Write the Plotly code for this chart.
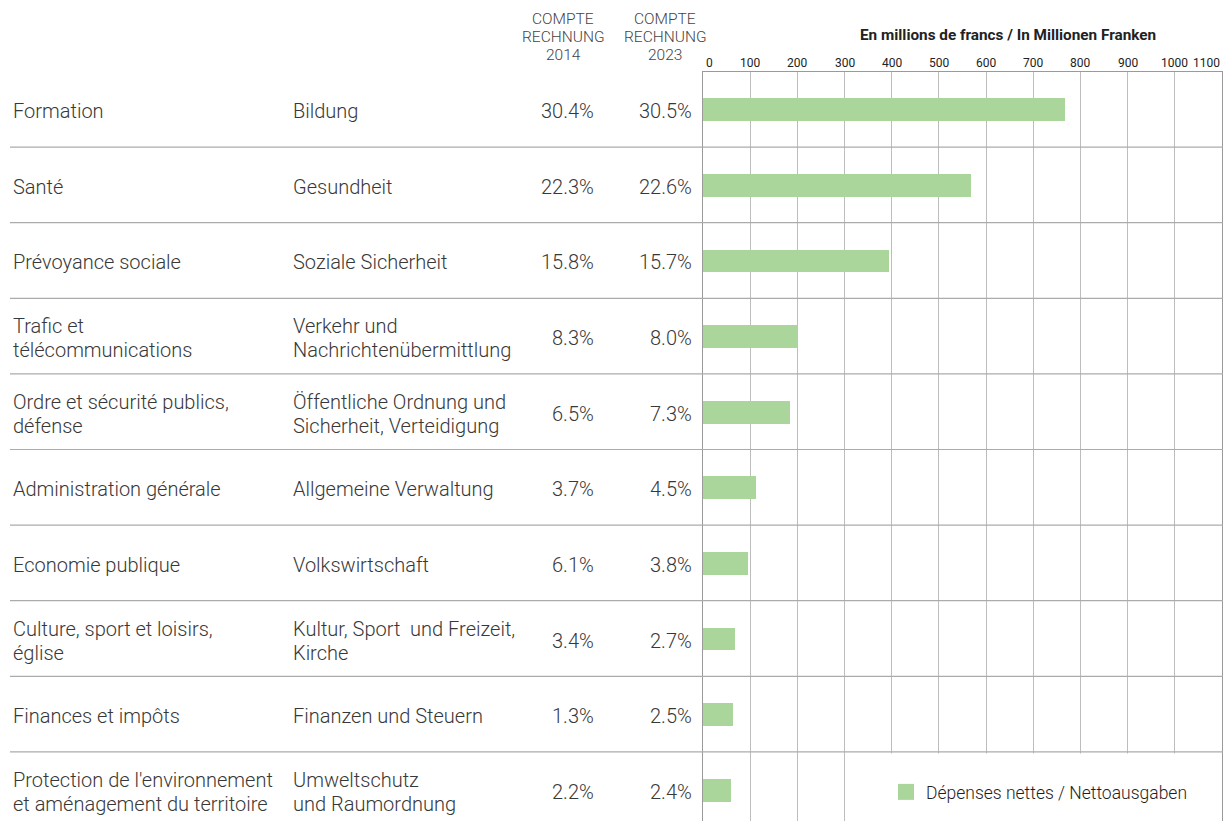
import plotly.graph_objects as go

# ---------------- data ----------------
labels_fr = [
    "Formation",
    "Santé",
    "Prévoyance sociale",
    "Trafic et<br>télécommunications",
    "Ordre et sécurité publics,<br>défense",
    "Administration générale",
    "Economie publique",
    "Culture, sport et loisirs,<br>église",
    "Finances et impôts",
    "Protection de l'environnement<br>et aménagement du territoire",
]
labels_de = [
    "Bildung",
    "Gesundheit",
    "Soziale Sicherheit",
    "Verkehr und<br>Nachrichtenübermittlung",
    "Öffentliche Ordnung und<br>Sicherheit, Verteidigung",
    "Allgemeine Verwaltung",
    "Volkswirtschaft",
    "Kultur, Sport  und Freizeit,<br>Kirche",
    "Finanzen und Steuern",
    "Umweltschutz<br>und Raumordnung",
]
share_2014 = ["30.4%", "22.3%", "15.8%", "8.3%", "6.5%", "3.7%", "6.1%", "3.4%", "1.3%", "2.2%"]
share_2023 = ["30.5%", "22.6%", "15.7%", "8.0%", "7.3%", "4.5%", "3.8%", "2.7%", "2.5%", "2.4%"]
net_expenses = [767, 568, 394, 201, 184, 113, 96, 68, 63, 60]
tick_values = [0, 100, 200, 300, 400, 500, 600, 700, 800, 900, 1000, 1100]
header_2014 = ["COMPTE", "RECHNUNG", "2014"]
header_2023 = ["COMPTE", "RECHNUNG", "2023"]
axis_title = "En millions de francs / In Millionen Franken"
legend_name = "Dépenses nettes / Nettoausgaben"

# ---------------- layout constants ----------------
W, H = 1223, 821
FONT = "Roboto"
TXT = "#383838"
GREEN = "#aad69b"
PLOT_TOP = 71.5
ROW_H = 75.6
FS = 20
LINE_GAP = 24
n = len(labels_fr)

def px(x):
    return x / W

def py(y):
    return 1 - y / H

rows = list(range(n))
y_bottom = (H - PLOT_TOP) / ROW_H - 0.5

fig = go.Figure()
fig.add_trace(go.Bar(
    x=net_expenses, y=rows, orientation="h",
    marker=dict(color=GREEN, line=dict(width=0)),
    width=0.30, showlegend=False, hoverinfo="x",
))
# legend entry
fig.add_trace(go.Scatter(
    x=[None], y=[None], mode="markers", name=legend_name,
    marker=dict(symbol="square", size=17, color=GREEN),
))

annotations = []

def add_cell(text, xpix, row, anchor):
    lines = text.split("<br>")
    k = len(lines)
    for j, ln in enumerate(lines):
        shift = -((j - (k - 1) / 2) * LINE_GAP) - 2
        annotations.append(dict(x=px(xpix), y=row, xref="paper", yref="y", text=ln,
                                xanchor=anchor, yanchor="middle", showarrow=False,
                                yshift=shift,
                                font=dict(family=FONT, size=FS, color=TXT, weight=300)))

for i in rows:
    add_cell(labels_fr[i], 11, i, "left")
    add_cell(labels_de[i], 291, i, "left")
    add_cell(share_2014[i], 596, i, "right")
    add_cell(share_2023[i], 694, i, "right")

for k, t in enumerate(tick_values):
    anchor = "left" if k == 0 else ("right" if k == len(tick_values) - 1 else "center")
    annotations.append(dict(x=t, y=py(63), xref="x", yref="paper", text=str(t),
                            xanchor=anchor, yanchor="middle", showarrow=False,
                            xshift=(1 if k == 0 else 0),
                            font=dict(family=FONT, size=12, color="#222")))

annotations.append(dict(x=px(1008), y=py(35), xref="paper", yref="paper",
                        text="<b>" + axis_title + "</b>", xanchor="center", yanchor="middle",
                        showarrow=False, font=dict(family=FONT, size=15.3, color="#222")))
for hx, hdr in ((563, header_2014), (665, header_2023)):
    for j, (ln, yy) in enumerate(zip(hdr, (19, 37, 55))):
        annotations.append(dict(x=px(hx), y=py(yy), xref="paper", yref="paper", text=ln,
                                xanchor="center", yanchor="middle", showarrow=False,
                                font=dict(family=FONT, size=15.5, color="#444", weight=300)))

shapes = []
for i in range(n - 1):
    shapes.append(dict(type="line", xref="paper", yref="y", x0=px(10), x1=1,
                       y0=i + 0.5, y1=i + 0.5, line=dict(color="#ababab", width=1.2)))
# white area behind legend
shapes.append(dict(type="rect", xref="paper", yref="y", x0=px(846.5), x1=px(1221),
                   y0=n - 1.5 + 0.02, y1=y_bottom + 1, fillcolor="white",
                   line=dict(width=0), layer="above"))

fig.update_layout(
    width=W, height=H,
    margin=dict(l=0, r=0, t=0, b=0),
    paper_bgcolor="white", plot_bgcolor="white",
    font=dict(family=FONT, color=TXT),
    xaxis=dict(domain=[px(703), px(1222)], range=[0, 1100], dtick=100, side="top",
               showgrid=True, gridcolor="#bdbdbd", gridwidth=1,
               showline=True, linecolor="#9a9a9a", linewidth=1,
               showticklabels=False, zeroline=False, fixedrange=True),
    yaxis=dict(domain=[0, py(PLOT_TOP)], range=[y_bottom, -0.5],
               showgrid=False, zeroline=False, showticklabels=False,
               showline=True, mirror=True, linecolor="#9a9a9a", linewidth=1.2,
               fixedrange=True),
    annotations=annotations,
    shapes=shapes,
    showlegend=True,
    legend=dict(x=px(886), y=py(792), xanchor="left", yanchor="middle",
                bgcolor="rgba(0,0,0,0)",
                font=dict(family=FONT, size=17.5, color="#1e1e1e", weight=300),
                borderwidth=0),
    bargap=0,
)

fig.write_html("out.html", config={"displayModeBar": False},
               post_script="document.body.style.margin='0';document.body.style.padding='0';")
